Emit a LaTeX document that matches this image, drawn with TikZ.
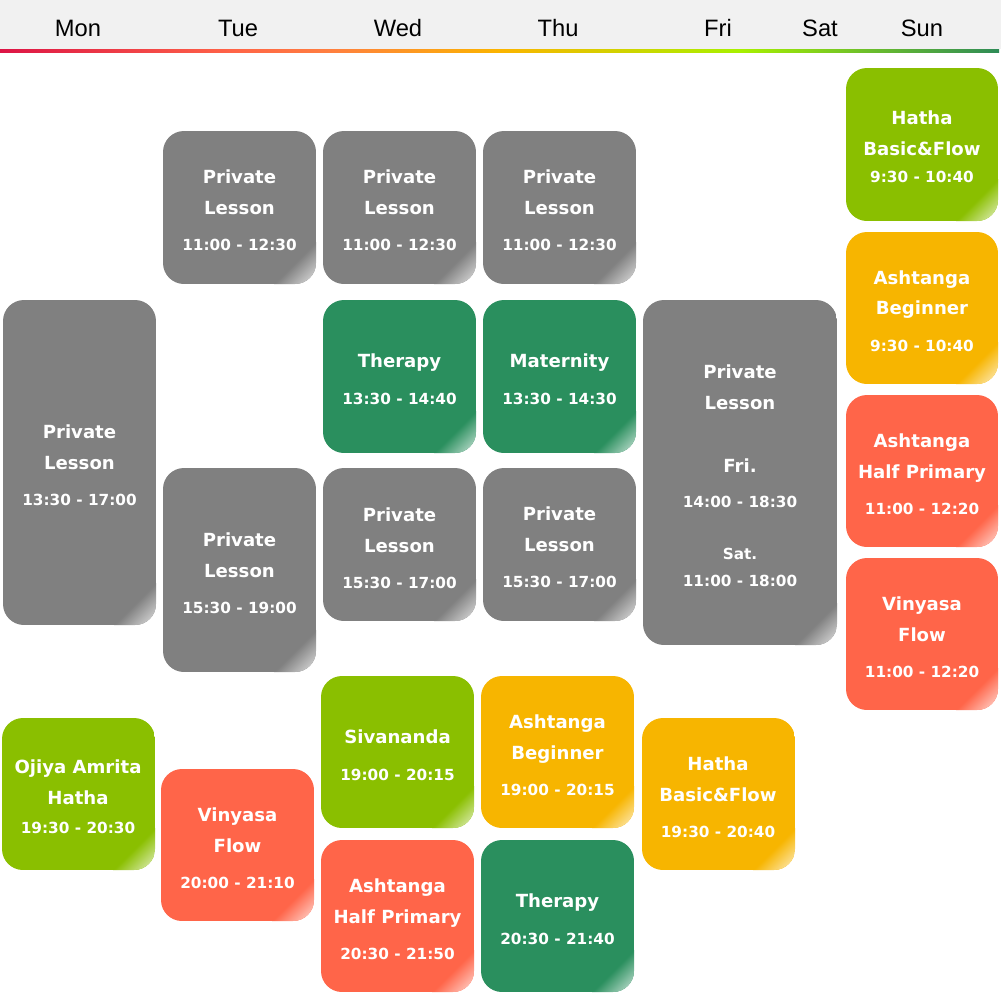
\documentclass[tikz,border=0pt]{standalone}
\usepackage{fontspec}
\setmainfont{DejaVu Sans}
\newfontfamily\dayfont{Liberation Sans}
\usetikzlibrary{calc}

\definecolor{lessongray}{HTML}{808080}
\definecolor{lessongreen}{HTML}{8ABF00}
\definecolor{lessonorange}{HTML}{F7B500}
\definecolor{lessonred}{HTML}{FF6549}
\definecolor{lessonteal}{HTML}{2A8F5E}
\definecolor{headgray}{HTML}{F1F1F1}
\definecolor{lineA}{HTML}{DC1446}
\definecolor{lineB}{HTML}{FF6347}
\definecolor{lineC}{HTML}{FF7F40}
\definecolor{lineD}{HTML}{FBB400}
\definecolor{lineE}{HTML}{A8F000}
\definecolor{lineF}{HTML}{2E8B57}
\pgfdeclarehorizontalshading{rainbowline}{100bp}{color(0bp)=(lineA); color(25bp)=(lineA); color(36.5bp)=(lineB); color(41.5bp)=(lineC); color(50bp)=(lineD); color(62bp)=(lineE); color(75bp)=(lineF); color(100bp)=(lineF)}

\tikzset{
	title/.style={font=\bfseries\fontsize{10.3}{12}\selectfont, text=white, inner sep=0pt, anchor=base},
	hours/.style={font=\bfseries\fontsize{8.7}{10}\selectfont, text=white, inner sep=0pt, anchor=base},
	dayname/.style={font=\dayfont\fontsize{13.5}{16}\selectfont, inner sep=0pt, anchor=base}
}
\def\classbox(#1,#2)(#3,#4)#5{\begin{scope}
		\clip[rounded corners=0.42cm] (#1,#2) rectangle (#3,#4);
		\fill[#5] (#1,#2) rectangle (#3,#4);
		\shade[top color=#5, bottom color=#5!45!white, middle color=#5, shading angle=45] ($(#3,#4)+(-42,0)$) -- ($(#3,#4)+(0,-42)$) -- (#3,#4) -- cycle;
	\end{scope}}

\begin{document}
\begin{tikzpicture}[x=0.02cm, y=-0.02cm]
		%%%%% START %%%%%
		\useasboundingbox (0,0) rectangle (1001,1004);
		
		\fill[headgray] (0,0) rectangle (1001,49);
		\shade[shading=rainbowline] (0,49) rectangle (999,52);
		
		\node[dayname] (mon) at (78,36) {Mon};
		\node[dayname] (tue) at (238,36) {Tue};
		\node[dayname] (wed) at (398,36) {Wed};
		\node[dayname] (thu) at (558,36) {Thu};
		\node[dayname] (fri) at (718,36) {Fri};
		\node[dayname] (sat) at (820,36) {Sat};
		\node[dayname] (sun) at (922,36) {Sun};
		
		% morning private lessons
		\classbox(163,131)(316,284){lessongray}
		\node[title] (tueA1) at (239.5,183) {Private};
		\node[title] (tueA2) at (239.5,214) {Lesson};
		\node[hours] (tueA3) at (239.5,250) {11:00 - 12:30};
		
		\classbox(323,131)(476,284){lessongray}
		\node[title] (wedA1) at (399.5,183) {Private};
		\node[title] (wedA2) at (399.5,214) {Lesson};
		\node[hours] (wedA3) at (399.5,250) {11:00 - 12:30};
		
		\classbox(483,131)(636,284){lessongray}
		\node[title] (thuA1) at (559.5,183) {Private};
		\node[title] (thuA2) at (559.5,214) {Lesson};
		\node[hours] (thuA3) at (559.5,250) {11:00 - 12:30};
		
		% afternoon
		\classbox(3,300)(156,625){lessongray}
		\node[title] (monB1) at (79.5,438) {Private};
		\node[title] (monB2) at (79.5,469) {Lesson};
		\node[hours] (monB3) at (79.5,505) {13:30 - 17:00};
		
		\classbox(323,300)(476,453){lessonteal}
		\node[title] (wedB1) at (399.5,367) {Therapy};
		\node[hours] (wedB2) at (399.5,404) {13:30 - 14:40};
		
		\classbox(483,300)(636,453){lessonteal}
		\node[title] (thuB1) at (559.5,367) {Maternity};
		\node[hours] (thuB2) at (559.5,404) {13:30 - 14:30};
		
		\classbox(643,300)(837,645){lessongray}
		\node[title] (friB1) at (740,378) {Private};
		\node[title] (friB2) at (740,409) {Lesson};
		\node[title] (friB3) at (740,472) {Fri.};
		\node[hours] (friB4) at (740,507) {14:00 - 18:30};
		\node[hours] (friB5) at (740,559) {Sat.};
		\node[hours] (friB6) at (740,586) {11:00 - 18:00};
		
		\classbox(163,468)(316,672){lessongray}
		\node[title] (tueC1) at (239.5,546) {Private};
		\node[title] (tueC2) at (239.5,577) {Lesson};
		\node[hours] (tueC3) at (239.5,613) {15:30 - 19:00};
		
		\classbox(323,468)(476,621){lessongray}
		\node[title] (wedC1) at (399.5,521) {Private};
		\node[title] (wedC2) at (399.5,552) {Lesson};
		\node[hours] (wedC3) at (399.5,588) {15:30 - 17:00};
		
		\classbox(483,468)(636,621){lessongray}
		\node[title] (thuC1) at (559.5,520) {Private};
		\node[title] (thuC2) at (559.5,551) {Lesson};
		\node[hours] (thuC3) at (559.5,587) {15:30 - 17:00};
		
		% sunday
		\classbox(846,68)(998,221){lessongreen}
		\node[title] (sunA1) at (922,124) {Hatha};
		\node[title] (sunA2) at (922,155) {Basic\&Flow};
		\node[hours] (sunA3) at (922,182) {9:30 - 10:40};
		
		\classbox(846,232)(998,384){lessonorange}
		\node[title] (sunB1) at (922,284) {Ashtanga};
		\node[title] (sunB2) at (922,314) {Beginner};
		\node[hours] (sunB3) at (922,351) {9:30 - 10:40};
		
		\classbox(846,395)(998,547){lessonred}
		\node[title] (sunC1) at (922,447) {Ashtanga};
		\node[title] (sunC2) at (922,478) {Half Primary};
		\node[hours] (sunC3) at (922,514) {11:00 - 12:20};
		
		\classbox(846,558)(998,710){lessonred}
		\node[title] (sunD1) at (922,610) {Vinyasa};
		\node[title] (sunD2) at (922,641) {Flow};
		\node[hours] (sunD3) at (922,677) {11:00 - 12:20};
		
		% evening
		\classbox(2,718)(155,870){lessongreen}
		\node[title] (monD1) at (78,773) {Ojiya Amrita};
		\node[title] (monD2) at (78,804) {Hatha};
		\node[hours] (monD3) at (78,833) {19:30 - 20:30};
		
		\classbox(161,769)(314,921){lessonred}
		\node[title] (tueD1) at (237.5,821) {Vinyasa};
		\node[title] (tueD2) at (237.5,852) {Flow};
		\node[hours] (tueD3) at (237.5,888) {20:00 - 21:10};
		
		\classbox(321,676)(474,828){lessongreen}
		\node[title] (wedD1) at (397.5,743) {Sivananda};
		\node[hours] (wedD2) at (397.5,780) {19:00 - 20:15};
		
		\classbox(321,840)(474,992){lessonred}
		\node[title] (wedE1) at (397.5,892) {Ashtanga};
		\node[title] (wedE2) at (397.5,923) {Half Primary};
		\node[hours] (wedE3) at (397.5,959) {20:30 - 21:50};
		
		\classbox(481,676)(634,828){lessonorange}
		\node[title] (thuD1) at (557.5,728) {Ashtanga};
		\node[title] (thuD2) at (557.5,759) {Beginner};
		\node[hours] (thuD3) at (557.5,795) {19:00 - 20:15};
		
		\classbox(481,840)(634,992){lessonteal}
		\node[title] (thuE1) at (557.5,907) {Therapy};
		\node[hours] (thuE2) at (557.5,944) {20:30 - 21:40};
		
		\classbox(642,718)(795,870){lessonorange}
		\node[title] (friD1) at (718,770) {Hatha};
		\node[title] (friD2) at (718,801) {Basic\&Flow};
		\node[hours] (friD3) at (718,837) {19:30 - 20:40};
		
		%%%%% END %%%%%
\end{tikzpicture}
\end{document}
